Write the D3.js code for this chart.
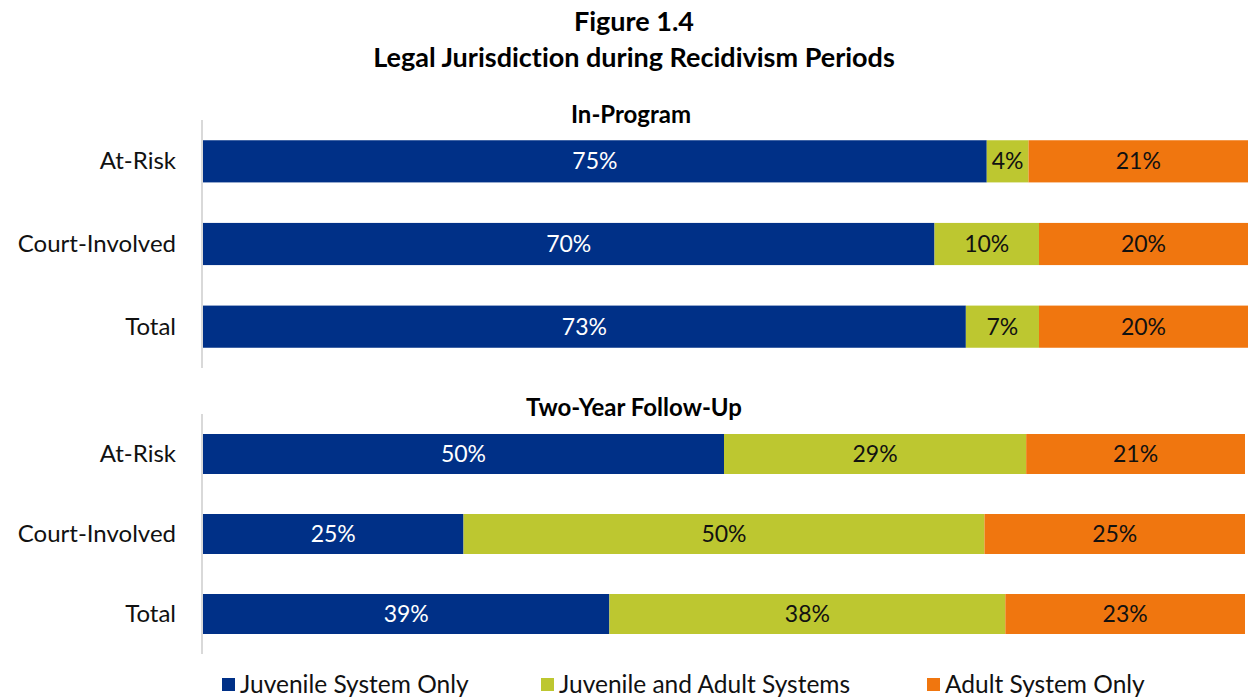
<!DOCTYPE html>
<html>
<head>
<meta charset="utf-8">
<script src="https://cdn.jsdelivr.net/npm/d3@7"></script>
<style>
  body { margin: 0; background: #fff; }
  svg { font-family: Lato, "Open Sans", sans-serif; font-variant-ligatures: none; }
</style>
</head>
<body>
<div id="chart"></div>
<script>
// data
const categories = ["At-Risk", "Court-Involved", "Total"];
const seriesNames = ["Juvenile System Only", "Juvenile and Adult Systems", "Adult System Only"];
const colors = ["#003087", "#BDC730", "#F0760F"];

const inProgram = {
    juvenile: [75, 70, 73],
    both: [4, 10, 7],
    adult: [21, 20, 20]
};
const followUp = {
    juvenile: [50, 25, 39],
    both: [29, 50, 38],
    adult: [21, 25, 23]
};

const W = 1248, H = 698;
const svg = d3.select("#chart").append("svg")
    .attr("width", W).attr("height", H);

// titles
svg.append("text").attr("x", 634).attr("y", 31)
    .attr("text-anchor", "middle").attr("font-weight", "bold").attr("font-size", 27)
    .text("Figure 1.4");
svg.append("text").attr("x", 634).attr("y", 67)
    .attr("text-anchor", "middle").attr("font-weight", "bold").attr("font-size", 27)
    .text("Legal Jurisdiction during Recidivism Periods");

function drawPanel(title, data, opt) {
    let g = svg.append("g");
    let keys = ["juvenile", "both", "adult"];
    let rows = categories.map((c, i) => {
        let r = { cat: c };
        keys.forEach(k => r[k] = data[k][i]);
        return r;
    });
    let stacked = d3.stack().keys(keys)(rows);

    let x = d3.scaleLinear().domain([0, 100]).range([opt.left, opt.right]);
    let y = d3.scaleBand().domain(categories).range([opt.top, opt.bottom]).paddingInner(opt.pad).paddingOuter(opt.pad / 2);

    g.append("text").attr("x", opt.titleX).attr("y", opt.titleY)
        .attr("text-anchor", "middle").attr("font-weight", "bold").attr("font-size", 24)
        .text(title);

    stacked.forEach((s, si) => {
        let sg = g.append("g");
        sg.selectAll("rect").data(s).enter().append("rect")
            .attr("x", d => x(d[0]))
            .attr("y", d => y(d.data.cat))
            .attr("width", d => x(d[1]) - x(d[0]))
            .attr("height", y.bandwidth())
            .attr("fill", colors[si]);
        sg.selectAll("text").data(s).enter().append("text")
            .attr("x", d => (x(d[0]) + x(d[1])) / 2)
            .attr("y", d => y(d.data.cat) + y.bandwidth() / 2 + 8)
            .attr("text-anchor", "middle")
            .attr("font-size", 23)
            .attr("fill", si == 0 ? "#fff" : "#111")
            .text(d => (d[1] - d[0]) + "%");
    });

    // axis line
    g.append("line").attr("x1", opt.left - 1).attr("x2", opt.left - 1)
        .attr("y1", opt.top).attr("y2", opt.bottom)
        .attr("stroke", "#d9d9d9").attr("stroke-width", 2);

    g.selectAll(".cat").data(categories).enter().append("text")
        .attr("x", 176)
        .attr("y", d => y(d) + y.bandwidth() / 2 + 8)
        .attr("text-anchor", "end")
        .attr("font-size", 24)
        .attr("fill", "#111")
        .text(d => d);
}

drawPanel("In-Program", inProgram, { left: 203, right: 1248, top: 120, bottom: 368, pad: 0.49, titleX: 631, titleY: 123 });
drawPanel("Two-Year Follow-Up", followUp, { left: 203, right: 1245, top: 414, bottom: 654, pad: 0.5, titleX: 634, titleY: 416 });

// legend
const legendX = [222, 541, 927];
let lg = svg.append("g");
seriesNames.forEach((n, i) => {
    lg.append("rect").attr("x", legendX[i]).attr("y", 678).attr("width", 13).attr("height", 13)
        .attr("fill", colors[i]);
    lg.append("text").attr("x", legendX[i] + 18).attr("y", 693)
        .attr("font-size", 24.5).attr("fill", "#111").text(n);
});
</script>
</body>
</html>
